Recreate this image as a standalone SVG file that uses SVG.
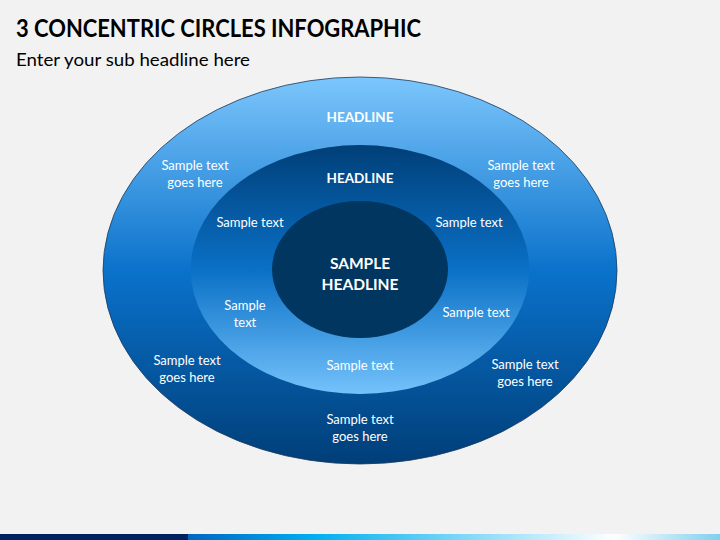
<svg xmlns="http://www.w3.org/2000/svg" width="720" height="540" viewBox="0 0 720 540">
<defs>
<linearGradient id="gOuter" x1="0" y1="0" x2="0" y2="1">
<stop offset="0" stop-color="#7cc6fc"/>
<stop offset="0.5" stop-color="#0a72cb"/>
<stop offset="1" stop-color="#003e78"/>
</linearGradient>
<linearGradient id="gMid" x1="0" y1="0" x2="0" y2="1">
<stop offset="0" stop-color="#003f78"/>
<stop offset="0.5" stop-color="#0a70c6"/>
<stop offset="1" stop-color="#74c2fb"/>
</linearGradient>
<linearGradient id="gBar" x1="0" y1="0" x2="1" y2="0">
<stop offset="0" stop-color="#0066bf"/>
<stop offset="0.24" stop-color="#00b0f0"/>
<stop offset="0.8" stop-color="#ffffff"/>
<stop offset="1" stop-color="#7fcfef"/>
</linearGradient>
<style>
.t{font-family:Lato,"Liberation Sans",sans-serif;fill:#ffffff;text-anchor:middle;font-size:13px}
.h{font-weight:bold;font-size:13.5px}
.c{font-weight:bold;font-size:15.5px}
</style>
</defs>
<rect width="720" height="540" fill="#f2f2f2"/>
<text x="16" y="37" font-family="Lato,'Liberation Sans',sans-serif" font-weight="bold" font-size="24" fill="#000" textLength="405" lengthAdjust="spacingAndGlyphs">3 CONCENTRIC CIRCLES INFOGRAPHIC</text>
<text x="16" y="66" font-family="Lato,'Liberation Sans',sans-serif" font-size="18" fill="#000" textLength="234" lengthAdjust="spacingAndGlyphs">Enter your sub headline here</text>
<g id="outer">
<ellipse cx="360" cy="270.5" rx="257" ry="193.5" fill="url(#gOuter)" stroke="#1d3a5c" stroke-width="0.8"/>
<text class="t h" x="360" y="122">HEADLINE</text>
<text class="t" x="195" y="170">Sample text</text>
<text class="t" x="195" y="187">goes here</text>
<text class="t" x="521" y="170">Sample text</text>
<text class="t" x="521" y="187">goes here</text>
<text class="t" x="187" y="365">Sample text</text>
<text class="t" x="187" y="382">goes here</text>
<text class="t" x="525" y="369">Sample text</text>
<text class="t" x="525" y="386">goes here</text>
<text class="t" x="360" y="424">Sample text</text>
<text class="t" x="360" y="441">goes here</text>
</g>
<g id="middle">
<ellipse cx="360" cy="269.5" rx="169.3" ry="124.5" fill="url(#gMid)"/>
<text class="t h" x="360" y="183">HEADLINE</text>
<text class="t" x="250" y="227">Sample text</text>
<text class="t" x="469" y="227">Sample text</text>
<text class="t" x="245" y="310">Sample</text>
<text class="t" x="245" y="327">text</text>
<text class="t" x="476" y="317">Sample text</text>
<text class="t" x="360" y="370">Sample text</text>
</g>
<g id="inner">
<ellipse cx="360" cy="269.5" rx="88" ry="68.5" fill="#00365f"/>
<text class="t c" x="360" y="269">SAMPLE</text>
<text class="t c" x="360" y="290">HEADLINE</text>
</g>
<g id="connectors"/>
<rect x="0" y="534" width="188" height="6" fill="#002060"/>
<rect x="188" y="534" width="532" height="6" fill="url(#gBar)"/>
</svg>
